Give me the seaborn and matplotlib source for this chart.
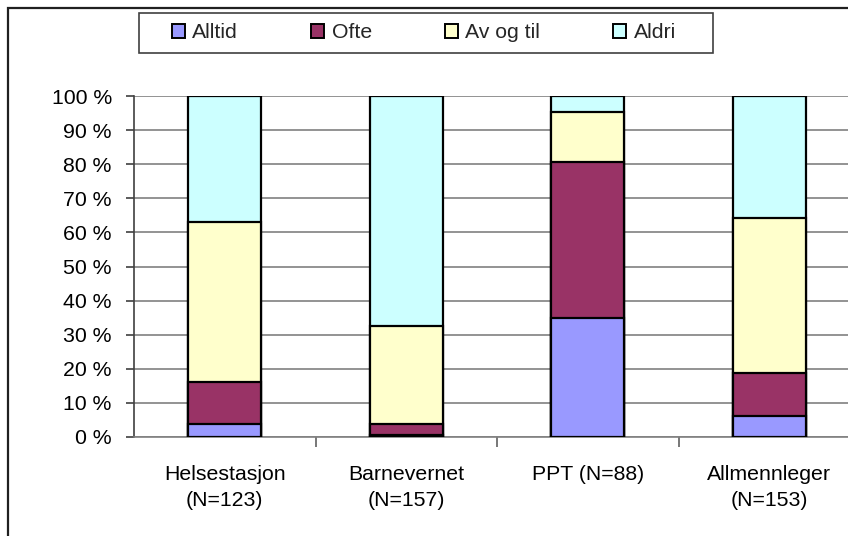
import matplotlib
matplotlib.use("Agg")
import matplotlib.pyplot as plt
from matplotlib.patches import Rectangle
from matplotlib.ticker import FixedLocator
import seaborn as sns
import pandas as pd
import numpy as np

categories = ["Helsestasjon\n(N=123)", "Barnevernet\n(N=157)", "PPT (N=88)", "Allmennleger\n(N=153)"]
series_names = ["Alltid", "Ofte", "Av og til", "Aldri"]
alltid = [3.8, 0.6, 35.0, 6.2]
ofte = [12.3, 3.2, 45.7, 12.5]
av_og_til = [47.0, 28.8, 14.6, 45.6]
aldri = [36.9, 67.4, 4.7, 35.7]
colors = ["#9999FF", "#993366", "#FFFFCC", "#CCFFFF"]
y_ticks = [0, 10, 20, 30, 40, 50, 60, 70, 80, 90, 100]

sns.set_theme(style="white")
plt.rcParams["font.family"] = ["Liberation Sans", "DejaVu Sans"]

W, H = 848, 536
fig = plt.figure(figsize=(W / 100, H / 100), dpi=100)
ax = fig.add_axes([134 / W, 1 - 437 / H, 726 / W, 341 / H])

values = np.array([alltid, ofte, av_og_til, aldri])
cum = np.cumsum(values, axis=0)

# draw stacked bars from the top layer down so each lower segment overlays the one above
for i in range(len(series_names) - 1, -1, -1):
    df = pd.DataFrame({"kategori": categories, "verdi": cum[i]})
    sns.barplot(data=df, x="kategori", y="verdi", color=colors[i], width=0.4,
                edgecolor="black", linewidth=1.6, saturation=1, ax=ax, zorder=3)

ax.set_xlim(-0.5, 3.5)
ax.set_ylim(0, 100)
ax.set_xlabel("")
ax.set_ylabel("")
ax.set_yticks(y_ticks)
ax.set_yticklabels([f"{t} %" for t in y_ticks])
ax.yaxis.grid(True, color="#808080", linewidth=1.2, zorder=0)
ax.set_axisbelow(True)

for s in ["top", "right"]:
    ax.spines[s].set_visible(False)
ax.spines["left"].set_color("#404040")
ax.spines["left"].set_linewidth(1.2)
ax.spines["bottom"].set_color("#808080")
ax.spines["bottom"].set_linewidth(1.2)

ax.tick_params(axis="y", which="major", left=True, length=6, width=1.2, color="#404040",
               pad=10, labelsize=15.3, labelcolor="black")
ax.tick_params(axis="x", which="major", bottom=False, pad=14, labelsize=15.3, labelcolor="black")
ax.xaxis.set_minor_locator(FixedLocator([0.5, 1.5, 2.5]))
ax.tick_params(axis="x", which="minor", bottom=True, length=7, width=1.2, color="#606060")
for lbl in ax.get_xticklabels():
    lbl.set_linespacing(1.45)
    lbl.set_ha("center")

# legend entries without their own frame; the box is drawn separately
handles = [Rectangle((0, 0), 1, 1, facecolor=c, edgecolor="black", linewidth=1.4) for c in colors]
fig.legend(handles, series_names, loc="center", bbox_to_anchor=(424 / W, 1 - 33 / H),
           ncol=4, frameon=False, fontsize=15.3, handlelength=0.6, handleheight=0.6,
           handletextpad=0.35, columnspacing=3.45, borderpad=0, borderaxespad=0)
fig.add_artist(Rectangle((139 / W, 1 - 53 / H), 574 / W, 40 / H, transform=fig.transFigure,
                         fill=False, edgecolor="#404040", linewidth=1.2))

# outer chart-area frame
fig.add_artist(Rectangle((8 / W, -0.1), 1.1, 1.1 - 8 / H, transform=fig.transFigure,
                         fill=False, edgecolor="#202020", linewidth=1.6, clip_on=False))

fig.savefig("out.png", dpi=100)
